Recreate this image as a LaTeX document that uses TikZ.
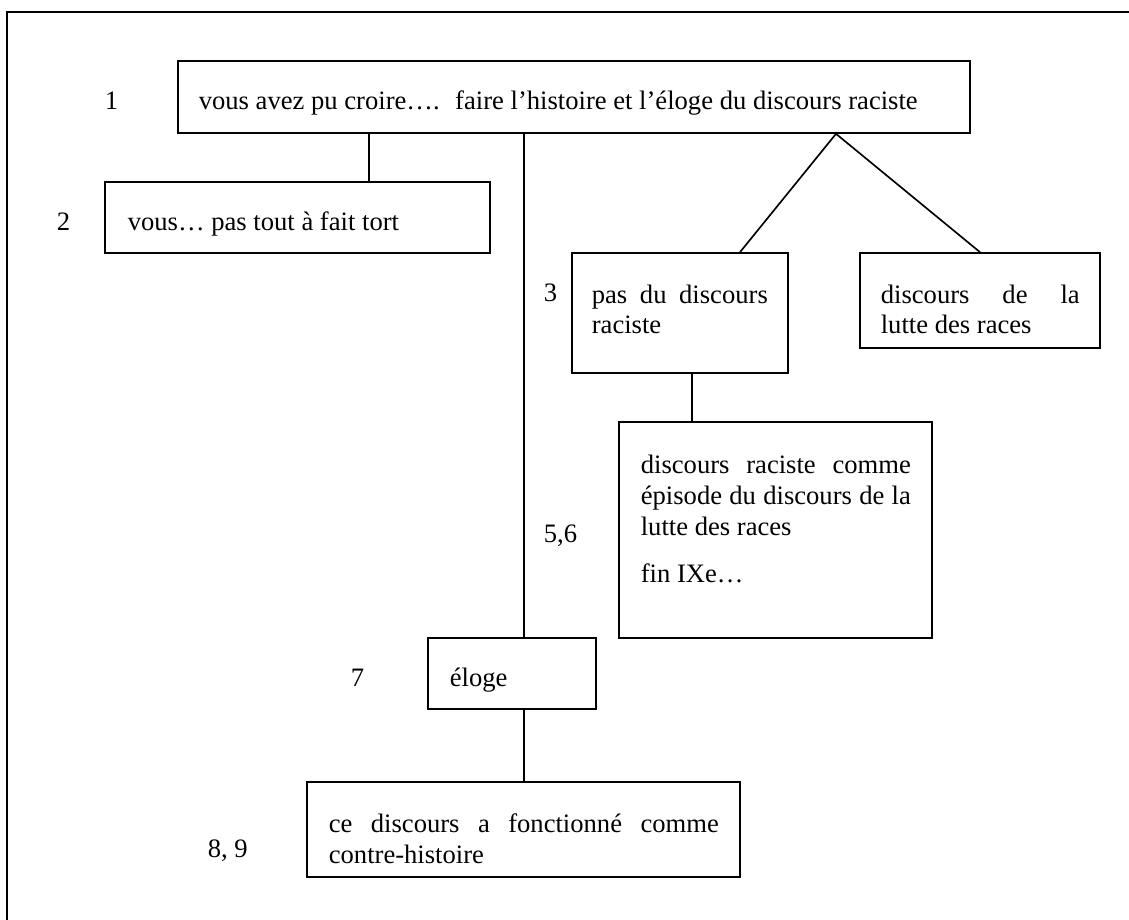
\documentclass[tikz,border=0pt]{standalone}
\usepackage{fontspec}
\setmainfont{Liberation Serif}
\usetikzlibrary{fit,positioning}
% one justified line of a given width
\newcommand{\jl}[2]{\hbox to #1{#2}}

\begin{document}
\begin{tikzpicture}[x=0.451pt, y=-0.451pt, line width=0.75pt]
\tikzstyle{every node}=[font=\fontsize{12}{13.8}\selectfont, inner sep=0pt]
\tikzstyle{box}=[draw]
\tikzstyle{para}=[anchor=north west, align=left]
\tikzstyle{lbl}=[anchor=base west]
\useasboundingbox (0,0) rectangle (1129,920);
\draw[line width=1.2pt] (7,920) -- (7,12) -- (1129,12);

% boxes
\node[box, fit={(178,61) (970,133)}] (B1) {};
\node[box, fit={(105,182) (490,253)}] (B2) {};
\node[box, fit={(572,253) (788,373)}] (B3) {};
\node[box, fit={(860,253) (1100,348)}] (B4) {};
\node[box, fit={(619,422) (932,638)}] (B5) {};
\node[box, fit={(428,638) (596,709)}] (B7) {};
\node[box, fit={(307,782) (740,877)}] (B8) {};

% texts
\node[lbl] (T1) at (198,110) {vous avez pu croire…. \ faire l’histoire et l’éloge du discours raciste};
\node[lbl] (T2) at (127,231) {vous… pas tout à fait tort};
\node[para] (T3) at (591,281) {\strut\jl{79.4pt}{pas \hfill du \hfill discours}\\raciste};
\node[para] (T4) at (880,281) {\strut\jl{89.7pt}{discours \hfill de \hfill la}\\lutte des races};
\node[para] (T5) at (640,451.6) {\strut\jl{121.8pt}{discours \hfill raciste \hfill comme}\\\jl{121.8pt}{épisode \hfill du \hfill discours \hfill de \hfill la}\\lutte des races\\[7.8pt]fin IXe…};
\node[lbl] (T7) at (449,686) {éloge};
\node[para] (T8) at (328,810.6) {\strut\jl{175.9pt}{ce \hfill discours \hfill a \hfill fonctionné \hfill comme}\\contre-histoire};

% numbers
\node[lbl] (L1) at (104,110) {1};
\node[lbl] (L2) at (56,231) {2};
\node[lbl] (L3) at (543,302) {3};
\node[lbl] (L56) at (543,543) {5,6};
\node[lbl] (L7) at (350,686) {7};
\node[lbl] (L89) at (207,857) {8, 9};

% links
\coordinate (X2) at (369,0);
\coordinate (X7) at (524,0);
\coordinate (XA) at (836,0);
\coordinate (X3) at (740,0);
\coordinate (X5) at (692,0);
\draw (B1.south -| X2) -- (B2.north -| X2);
\draw (B1.south -| X7) -- (B7.north -| X7);
\draw (B1.south -| XA) -- (B3.north -| X3);
\draw (B1.south -| XA) -- (B4.north);
\draw (B3.south -| X5) -- (B5.north -| X5);
\draw (B7.south -| X7) -- (B8.north -| X7);
\end{tikzpicture}
\end{document}
